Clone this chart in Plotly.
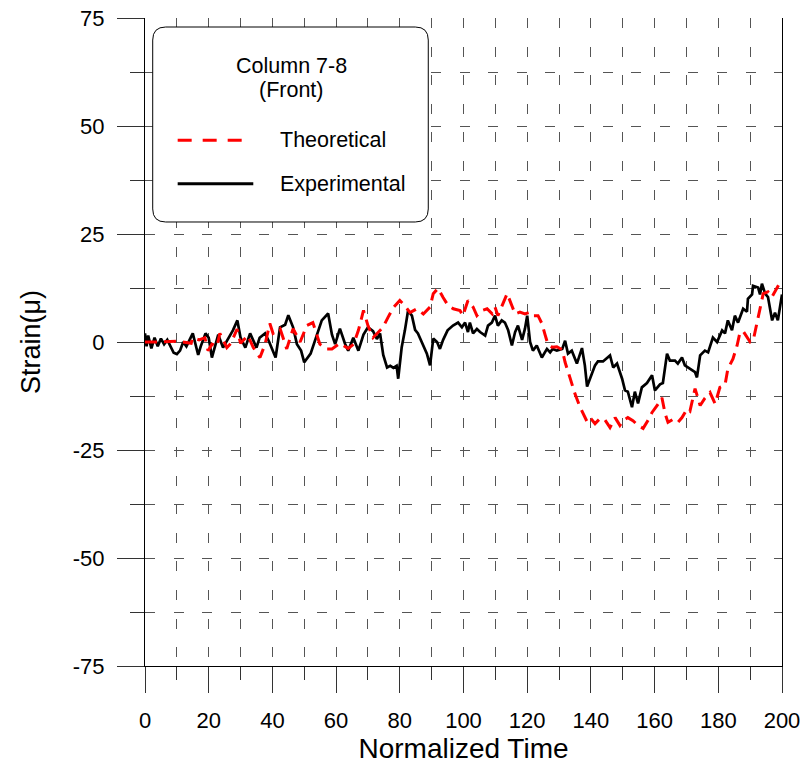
import plotly.graph_objects as go

# ---- data ----
exp_t = [0, 0.5, 1, 2, 3, 4, 5, 6, 7, 8, 9, 10, 11, 12, 13, 14, 15, 16.7, 17.5, 19, 20, 21, 22, 23, 24.5,
         26, 27.6, 29, 30, 31.5, 33, 35, 36, 37.7, 39, 41, 42.4, 44, 45, 46.5, 47.7, 49, 50, 52, 54, 55.5,
         57.5, 58.7, 59.7, 61.2, 62.8, 63.8, 65.4, 67, 68.6, 70, 71.6, 72.8, 73.8, 74.8, 76, 77, 78, 79,
         79.5, 80.6, 81.6, 82.6, 83.8, 84.8, 85.7, 87, 88.5, 89.5, 90.5, 91.7, 92.6, 93.6, 95, 96.7, 98.3,
         99.5, 100.5, 101.4, 102, 103, 104.2, 105.2, 106.8, 107.7, 108.9, 109.9, 110.8, 112, 113, 114,
         115.2, 116.2, 117.1, 118.4, 119.3, 120, 120.9, 121.8, 123, 124.6, 126.2, 127.2, 128, 129.3, 131,
         131.9, 132.8, 134, 135.6, 137.2, 138.1, 138.8, 140.3, 141.3, 142.2, 143.8, 146, 147, 148.2, 149.8,
         150.7, 151.6, 152.9, 153.8, 154.8, 156, 157.6, 159.2, 160.1, 161.7, 162.6, 163.9, 164.8, 166.4,
         167.3, 168.6, 169.5, 171.1, 172.7, 173.3, 174.3, 175.8, 176.8, 178.3, 179.6, 181.2, 182.1, 183,
         184.3, 185.2, 186.2, 187.8, 189, 189.3, 190.6, 190.9, 192.5, 193.1, 193.7, 194.7, 195.6, 196.9,
         197.8, 198.7, 200]
exp_v = [2, -1, 1.5, -1.5, 1, -1, 0.8, -0.5, 0.5, -1, -2.5, -2.8, -2, 0, -1, 0.5, 2, -3, -1, 2, 1, -3.6,
         -1, 1.7, -1.3, 0.5, 2.7, 5, 1, -1.3, 2, -1.3, 1, 2, 0, -3.6, 3.4, 4, 6.2, 3.4, -0.5, -2, -4.7,
         -2.7, 2, 5, 6.6, 1.7, -0.5, 3.1, -0.4, -2, 1, -2, 1.7, 3.4, 2.5, 0.7, 2, -3, -5.9, -5.5, -6, -5.5,
         -8.5, -1.2, 2.7, 7.3, 6.1, 2.8, 2, -0.4, -2.7, -5.4, 0.8, 0, -1.6, 0.5, 2.7, 3.8, 4.5,
         3.4, 4.5, 2.3, 4.5, 2, 3, 2.3, 1.5, 3.8, 4.5, 6.1, 3.8, 5, 4.5, 2.8,
         -0.8, 2.3, 3.8, 0.5, 3.1, 6.1, 0, -2, -0.8, -3.6, -1.6, -2.4, -1.6, -2, -1.6,
         0.3, -2.7, -2, -5, -1.4, -5.4, -10.3, -7.3, -5.4, -4.5, -4.5, -3.1, -5.9, -5, -8.5,
         -11.2, -11.5, -15.1, -11.5, -14.2, -10.5, -9.5, -7.7, -11.2, -9.8, -9.5, -2.7, -4.3, -4.3,
         -5, -3.6, -5.4, -6.2, -7, -8.2, -3.1, -2, -2.4, 1, 0, 2.7, 2, 5,
         2.7, 6.1, 4.5, 7.7, 7, 10, 11, 13, 12.6, 11, 13.5, 11.2, 10.4, 5,
         6.8, 5, 11]

theo_t = [0, 5, 10, 14.5, 15, 17, 18.8, 19.8, 21, 22.6, 23.5, 25.7, 27, 28.9, 30, 32.3, 34, 36.1, 37.7,
          39.2, 40.2, 42.4, 44.5, 46.5, 48.7, 50.8, 52.7, 54.9, 57, 58.7, 61.2, 63.8, 65.5, 67, 68.6, 70,
          71.6, 72.8, 74.7, 76.3, 78, 80, 81.6, 83.2, 85.4, 87.4, 89.5, 90.5, 92, 93.6, 95.2, 96.8, 98.9,
          99.8, 101.4, 103, 104.2, 105.8, 107.4, 109, 109.9, 110.8, 112.4, 113.7, 115.2, 116.2, 117.7,
          119.3, 120.9, 121.8, 123.4, 124.6, 125.6, 126.5, 127.8, 129.3, 131, 131.9, 133.4, 135, 136.6,
          138.1, 139.1, 140.3, 141.3, 142.9, 144.4, 146, 147.6, 149.1, 150.1, 151.6, 153.2, 154.8, 156.4,
          157.9, 159.2, 160.8, 162.3, 163.3, 164.2, 165.8, 167.3, 168.6, 170.2, 171.1, 172.7, 174.3,
          175.8, 177.4, 179, 180.5, 182.1, 183, 184.6, 185.9, 186.8, 187.8, 189, 190, 191, 192.2, 193.1,
          194.1, 195.6, 196.8, 198.4, 199.4, 200]
theo_v = [0, 0, 0.2, -0.3, 1, 0.5, 1, -2, -0.5, -1, 2, -1.3, -0.3, 3, -0.3, 1.5, -1.3, -3.6, -0.5,
          4.3, 2, 3.1, -1.6, 3.1, 0, 3.8, 4.5, -0.5, -1.6, -1.6, -0.3, -1.5, -0.5, 2.7, 7.3, 3.8,
          1, 2, 3.4, 5.7, 8, 9.6, 8.4, 6.8, 7.7, 6.5, 8.1, 11.2, 12.4, 10.3, 8.4, 7.7, 7.3,
          6.1, 9.6, 8.1, 6.1, 7.3, 7.7, 6.5, 8.1, 6.1, 8.8, 11.2, 8.4, 6.5, 6.9,
          6.5, 6.9, 6.1, 6.1, 4.3, 1.7, -0.5, -1.2, -1.1, -1.8, -4.7, -8.2, -12, -15.1,
          -17.4, -18.9, -18, -18.9, -17.7, -18, -19.8, -17.5, -19.3, -18.2, -17.5, -18.2, -19.3, -20,
          -18.2, -16.3, -14.7, -12.9, -16.6, -18.6, -17.9, -18.6, -17.5, -15.5, -16, -10.8, -14.7,
          -13, -11.7, -14.3, -10.5, -10, -6.2, -3.9, -0.8, 2.2, 2.5, 1, 0, 0.5, 4.3, 7.7,
          11.2, 11.6, 10.4, 12.4, 13.8, 13.5]

y_tickvals = [-75, -50, -25, 0, 25, 50, 75]
y_ticktext = ["-75", "-50", "-25", "0", "25", "50", "75"]
x_tickvals = [0, 20, 40, 60, 80, 100, 120, 140, 160, 180, 200]
x_ticktext = ["0", "20", "40", "60", "80", "100", "120", "140", "160", "180", "200"]

legend_title = ["Column 7-8", "(Front)"]
series_names = ["Theoretical", "Experimental"]
x_label = "Normalized Time"
y_label = "Strain(\u03bc)"

FONT = "Arial, Liberation Sans, sans-serif"
GRID = "#555555"
DASH = "10px,18.6px"

fig = go.Figure()
fig.add_trace(go.Scatter(x=exp_t, y=exp_v, mode="lines", name=series_names[1],
                         line=dict(color="black", width=2.7), showlegend=False))
fig.add_trace(go.Scatter(x=theo_t, y=theo_v, mode="lines", name=series_names[0],
                         line=dict(color="#ff0000", width=3, dash="12px,7px"), showlegend=False))

fig.update_layout(
    width=807, height=767,
    margin=dict(l=145, r=25, t=18, b=101, autoexpand=False),
    paper_bgcolor="white", plot_bgcolor="white",
    font=dict(family=FONT, color="black"),
    xaxis=dict(range=[0, 200], tickmode="array", tickvals=x_tickvals, ticktext=x_ticktext,
               showline=True, linecolor="black", linewidth=1,
               ticks="outside", ticklen=26, tickwidth=1, tickcolor="#333", ticklabelstandoff=9,
               showgrid=True, gridcolor=GRID, gridwidth=1, griddash=DASH, zeroline=False,
               minor=dict(dtick=10, tick0=0, ticks="outside", ticklen=13, tickwidth=1, tickcolor="#333",
                          showgrid=True, gridcolor=GRID, gridwidth=1, griddash=DASH),
               tickfont=dict(size=22), automargin=False,
               title=dict(text=x_label, font=dict(size=28), standoff=5)),
    yaxis=dict(range=[-75, 75], tickmode="array", tickvals=y_tickvals, ticktext=y_ticktext,
               showline=True, mirror=True, linecolor="black",
               linewidth=1, ticks="outside", ticklen=27, tickwidth=1, tickcolor="#333", ticklabelstandoff=8,
               showgrid=True, gridcolor=GRID, gridwidth=1, griddash=DASH, zeroline=False,
               minor=dict(dtick=12.5, tick0=0, ticks="outside", ticklen=14, tickwidth=1, tickcolor="#333",
                          showgrid=True, gridcolor=GRID, gridwidth=1, griddash=DASH),
               tickfont=dict(size=22), automargin=False,
               title=dict(text=y_label, font=dict(size=27), standoff=24)),
)

# legend box (rounded) in paper coordinates
x0, x1, y0, y1 = 0.0121, 0.4447, 0.6852, 0.9861
rx, ry = 0.0204, 0.0201
path = (f"M {x0+rx},{y1} L {x1-rx},{y1} Q {x1},{y1} {x1},{y1-ry} L {x1},{y0+ry} "
        f"Q {x1},{y0} {x1-rx},{y0} L {x0+rx},{y0} Q {x0},{y0} {x0},{y0+ry} "
        f"L {x0},{y1-ry} Q {x0},{y1} {x0+rx},{y1} Z")
fig.add_shape(type="path", path=path, xref="paper", yref="paper",
              line=dict(color="black", width=1), fillcolor="white", layer="above")
fig.add_shape(type="line", xref="paper", yref="paper", x0=0.0513, x1=0.1543, y0=0.8113, y1=0.8113,
              line=dict(color="#ff0000", width=3, dash="14px,11px"), layer="above")
fig.add_shape(type="line", xref="paper", yref="paper", x0=0.0513, x1=0.1700, y0=0.7444, y1=0.7444,
              line=dict(color="black", width=3), layer="above")

fig.add_annotation(x=0.2303, y=0.9259, xref="paper", yref="paper", text=legend_title[0],
                   showarrow=False, xanchor="center", yanchor="middle", font=dict(size=21.5))
fig.add_annotation(x=0.2303, y=0.8884, xref="paper", yref="paper", text=legend_title[1],
                   showarrow=False, xanchor="center", yanchor="middle", font=dict(size=21.5))
fig.add_annotation(x=0.209, y=0.8113, xref="paper", yref="paper", text=series_names[0],
                   showarrow=False, xanchor="left", yanchor="middle", font=dict(size=21.5))
fig.add_annotation(x=0.209, y=0.7444, xref="paper", yref="paper", text=series_names[1],
                   showarrow=False, xanchor="left", yanchor="middle", font=dict(size=21.5))

fig.write_html("out.html", config={"displayModeBar": False},
               post_script="document.body.style.margin='0';document.body.style.padding='0';")
